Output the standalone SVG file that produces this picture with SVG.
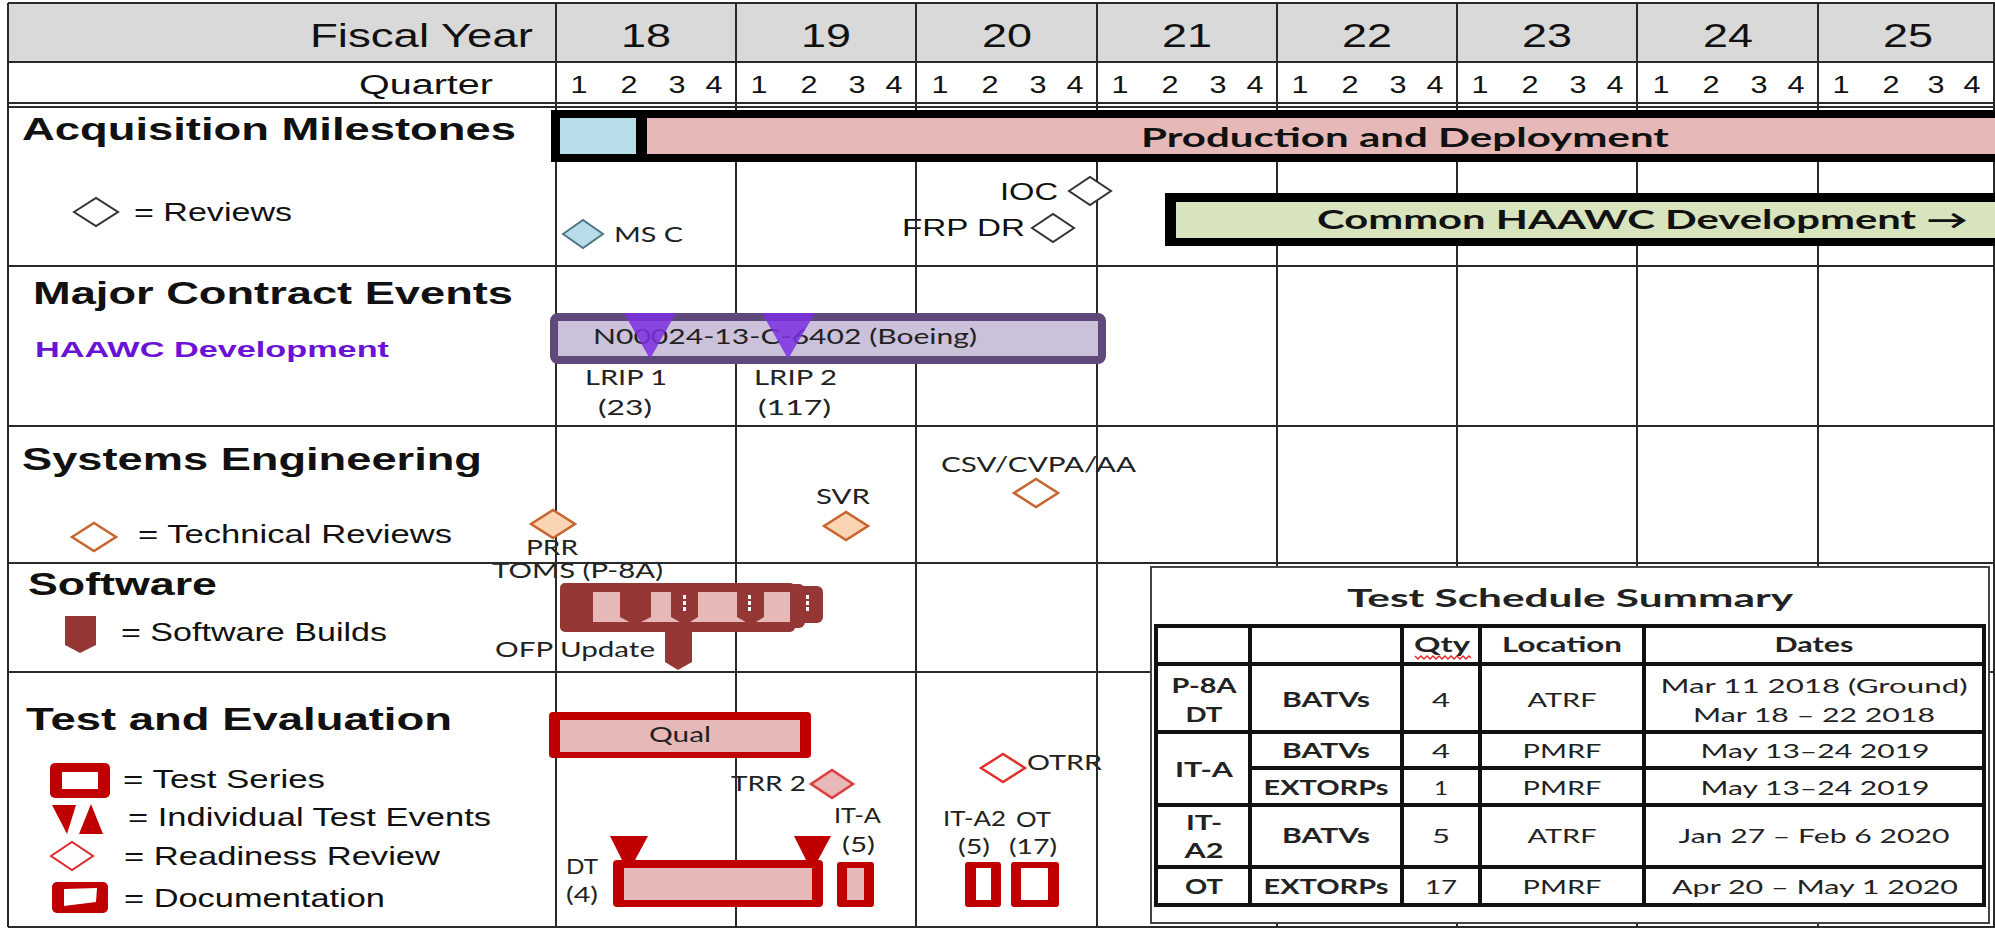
<svg xmlns="http://www.w3.org/2000/svg" width="1995" height="929" viewBox="0 0 1995 929">
<style>
.ar{font-family:"Liberation Sans",Arial,sans-serif;fill:#111}
.ca{font-family:Lato,"Noto Sans",sans-serif;fill:#222}
.b{font-weight:bold}
.hdr{font-size:34px}
.q{font-size:27px}
.qn{font-size:23px}
.sec{font-size:31px;font-weight:bold}
.leg{font-size:25px}
.lbl{font-size:21px}
.bar{font-family:Lato,"Noto Sans",sans-serif;font-weight:bold;font-size:26px;fill:#111}
.tb{font-size:20px}
.grid line{stroke:#2a2a2a;stroke-width:2}
.dk{fill:#953735}
.rd{fill:#c00000}
.pk{fill:#e6b8b7}
.wh{fill:#fff}
.rev{fill:#fff;stroke:#333;stroke-width:2}
.tr{fill:#fff;stroke:#c8642d;stroke-width:2.5}
.trf{fill:#fbd4b4;stroke:#c8642d;stroke-width:2.5}
.tl line{stroke:#111;stroke-width:4}
</style>

<rect x="0" y="0" width="1995" height="929" fill="#fff"/>
<rect x="8" y="3" width="1990" height="59" fill="#d9d9d9"/>

<!-- chart-area labels crossed by grid lines -->
<g id="labels-under-grid">
<text class="ca lbl" x="526" y="555" textLength="52" lengthAdjust="spacingAndGlyphs">PRR</text>
<text class="ca lbl" x="492" y="578" textLength="171" lengthAdjust="spacingAndGlyphs">TOMS (P-8A)</text>
<text class="ca lbl" x="495" y="657" textLength="160" lengthAdjust="spacingAndGlyphs">OFP Update</text>
<text class="ar" font-size="24" x="902" y="236" textLength="123" lengthAdjust="spacingAndGlyphs">FRP DR</text>
<text class="ca lbl" x="731" y="791" textLength="75" lengthAdjust="spacingAndGlyphs">TRR 2</text>
<text class="ca lbl" x="1027" y="770" textLength="75" lengthAdjust="spacingAndGlyphs">OTRR</text>
</g>

<g id="grid" class="grid">
<line x1="8" y1="3" x2="1995" y2="3"/>
<line x1="8" y1="62" x2="1995" y2="62"/>
<line x1="8" y1="103" x2="1995" y2="103"/>
<line x1="8" y1="107" x2="1995" y2="107"/>
<line x1="8" y1="266" x2="1995" y2="266"/>
<line x1="8" y1="426" x2="1995" y2="426"/>
<line x1="8" y1="563" x2="1995" y2="563"/>
<line x1="8" y1="672" x2="1995" y2="672"/>
<line x1="8" y1="927" x2="1995" y2="927"/>
<line x1="8" y1="3" x2="8" y2="927"/>
<line x1="556" y1="3" x2="556" y2="927"/>
<line x1="736" y1="3" x2="736" y2="927"/>
<line x1="916" y1="3" x2="916" y2="927"/>
<line x1="1097" y1="3" x2="1097" y2="927"/>
<line x1="1277" y1="3" x2="1277" y2="927"/>
<line x1="1457" y1="3" x2="1457" y2="927"/>
<line x1="1637" y1="3" x2="1637" y2="927"/>
<line x1="1818" y1="3" x2="1818" y2="927"/>
<line x1="1994" y1="3" x2="1994" y2="927"/>
</g>

<g id="header">
<text class="ar hdr" x="310" y="47" textLength="223" lengthAdjust="spacingAndGlyphs">Fiscal Year</text>
<g class="ar hdr" text-anchor="middle">
<text x="646" y="47" textLength="50" lengthAdjust="spacingAndGlyphs">18</text>
<text x="826" y="47" textLength="50" lengthAdjust="spacingAndGlyphs">19</text>
<text x="1007" y="47" textLength="50" lengthAdjust="spacingAndGlyphs">20</text>
<text x="1187" y="47" textLength="50" lengthAdjust="spacingAndGlyphs">21</text>
<text x="1367" y="47" textLength="50" lengthAdjust="spacingAndGlyphs">22</text>
<text x="1547" y="47" textLength="50" lengthAdjust="spacingAndGlyphs">23</text>
<text x="1728" y="47" textLength="50" lengthAdjust="spacingAndGlyphs">24</text>
<text x="1908" y="47" textLength="50" lengthAdjust="spacingAndGlyphs">25</text>
</g>
<text class="ar q" x="359" y="94" textLength="134" lengthAdjust="spacingAndGlyphs">Quarter</text>
<g class="ar qn" text-anchor="middle">
<text x="579" y="93" textLength="17" lengthAdjust="spacingAndGlyphs">1</text><text x="629" y="93" textLength="17" lengthAdjust="spacingAndGlyphs">2</text><text x="677" y="93" textLength="17" lengthAdjust="spacingAndGlyphs">3</text><text x="714" y="93" textLength="17" lengthAdjust="spacingAndGlyphs">4</text>
<text x="759" y="93" textLength="17" lengthAdjust="spacingAndGlyphs">1</text><text x="809" y="93" textLength="17" lengthAdjust="spacingAndGlyphs">2</text><text x="857" y="93" textLength="17" lengthAdjust="spacingAndGlyphs">3</text><text x="894" y="93" textLength="17" lengthAdjust="spacingAndGlyphs">4</text>
<text x="940" y="93" textLength="17" lengthAdjust="spacingAndGlyphs">1</text><text x="990" y="93" textLength="17" lengthAdjust="spacingAndGlyphs">2</text><text x="1038" y="93" textLength="17" lengthAdjust="spacingAndGlyphs">3</text><text x="1075" y="93" textLength="17" lengthAdjust="spacingAndGlyphs">4</text>
<text x="1120" y="93" textLength="17" lengthAdjust="spacingAndGlyphs">1</text><text x="1170" y="93" textLength="17" lengthAdjust="spacingAndGlyphs">2</text><text x="1218" y="93" textLength="17" lengthAdjust="spacingAndGlyphs">3</text><text x="1255" y="93" textLength="17" lengthAdjust="spacingAndGlyphs">4</text>
<text x="1300" y="93" textLength="17" lengthAdjust="spacingAndGlyphs">1</text><text x="1350" y="93" textLength="17" lengthAdjust="spacingAndGlyphs">2</text><text x="1398" y="93" textLength="17" lengthAdjust="spacingAndGlyphs">3</text><text x="1435" y="93" textLength="17" lengthAdjust="spacingAndGlyphs">4</text>
<text x="1480" y="93" textLength="17" lengthAdjust="spacingAndGlyphs">1</text><text x="1530" y="93" textLength="17" lengthAdjust="spacingAndGlyphs">2</text><text x="1578" y="93" textLength="17" lengthAdjust="spacingAndGlyphs">3</text><text x="1615" y="93" textLength="17" lengthAdjust="spacingAndGlyphs">4</text>
<text x="1661" y="93" textLength="17" lengthAdjust="spacingAndGlyphs">1</text><text x="1711" y="93" textLength="17" lengthAdjust="spacingAndGlyphs">2</text><text x="1759" y="93" textLength="17" lengthAdjust="spacingAndGlyphs">3</text><text x="1796" y="93" textLength="17" lengthAdjust="spacingAndGlyphs">4</text>
<text x="1841" y="93" textLength="17" lengthAdjust="spacingAndGlyphs">1</text><text x="1891" y="93" textLength="17" lengthAdjust="spacingAndGlyphs">2</text><text x="1936" y="93" textLength="17" lengthAdjust="spacingAndGlyphs">3</text><text x="1972" y="93" textLength="17" lengthAdjust="spacingAndGlyphs">4</text>
</g>
</g>

<!-- Acquisition Milestones -->
<g id="acq-title"><text class="ar sec" x="22" y="140" textLength="494" lengthAdjust="spacingAndGlyphs">Acquisition Milestones</text></g>
<g id="acq-legend">
<polygon class="rev" points="74,212 96,198 118,212 96,226"/>
<text class="ar leg" x="134" y="221" textLength="158" lengthAdjust="spacingAndGlyphs">= Reviews</text>
</g>
<g id="production-bar">
<rect x="551" y="110" width="1450" height="52" fill="#000"/>
<rect x="560" y="118" width="76" height="36" fill="#b7dee8"/>
<rect x="647" y="118" width="1350" height="36" class="pk"/>
<text class="bar" x="1141" y="147" textLength="528" lengthAdjust="spacingAndGlyphs">Production and Deployment</text>
</g>
<g id="ms-c">
<polygon points="563,234 583,220 603,234 583,248" fill="#b7dee8" stroke="#4f7682" stroke-width="2"/>
<text class="ca lbl" x="614" y="242" textLength="69" lengthAdjust="spacingAndGlyphs">MS C</text>
</g>
<g id="ioc">
<polygon class="rev" points="1069,191 1090,177 1111,191 1090,205"/>
<text class="ar" font-size="24" x="1000" y="200" textLength="58" lengthAdjust="spacingAndGlyphs">IOC</text>
</g>
<g id="frp-dr">
<polygon class="rev" points="1032,228 1053,214 1074,228 1053,242"/>
</g>
<g id="common-haawc">
<rect x="1165" y="193" width="840" height="53" fill="#000"/>
<rect x="1176" y="202" width="830" height="36" fill="#d7e4bd"/>
<text class="bar" x="1317" y="229" textLength="651" lengthAdjust="spacingAndGlyphs">Common HAAWC Development →</text>
</g>

<!-- Major Contract Events -->
<g id="mce-title">
<text class="ar sec" x="33" y="304" textLength="480" lengthAdjust="spacingAndGlyphs">Major Contract Events</text>
<text class="ar b" font-size="22" style="fill:#6a12d6" x="35" y="357" textLength="354" lengthAdjust="spacingAndGlyphs">HAAWC Development</text>
</g>
<g id="contract-bar">
<rect x="554" y="317" width="548" height="43" rx="4" fill="#ccc1da" stroke="#5f497a" stroke-width="8"/>
<text class="ca lbl" x="593" y="344" textLength="384" lengthAdjust="spacingAndGlyphs">N00024-13-C-6402 (Boeing)</text>
<polygon points="624,313 676,313 650,359" fill="#7b2fe0" fill-opacity="0.85"/>
<polygon points="762,313 815,313 788,359" fill="#7b2fe0" fill-opacity="0.85"/>
</g>
<g id="lrip1">
<text class="ca lbl" x="585" y="385" textLength="82" lengthAdjust="spacingAndGlyphs">LRIP 1</text>
<text class="ca lbl" x="598" y="415" textLength="54" lengthAdjust="spacingAndGlyphs">(23)</text>
</g>
<g id="lrip2">
<text class="ca lbl" x="754" y="385" textLength="83" lengthAdjust="spacingAndGlyphs">LRIP 2</text>
<text class="ca lbl" x="758" y="415" textLength="73" lengthAdjust="spacingAndGlyphs">(117)</text>
</g>

<!-- Systems Engineering -->
<g id="se-title"><text class="ar sec" x="22" y="470" textLength="460" lengthAdjust="spacingAndGlyphs">Systems Engineering</text></g>
<g id="se-legend">
<polygon class="tr" points="72,537 94,523 116,537 94,551"/>
<text class="ar leg" x="138" y="543" textLength="314" lengthAdjust="spacingAndGlyphs">= Technical Reviews</text>
</g>
<g id="prr"><polygon class="trf" points="531,524 553,510 575,524 553,538"/></g>
<g id="svr">
<polygon class="trf" points="824,526 846,512 868,526 846,540"/>
<text class="ca lbl" x="816" y="504" textLength="54" lengthAdjust="spacingAndGlyphs">SVR</text>
</g>
<g id="csv">
<polygon class="tr" points="1014,493 1036,479 1058,493 1036,507"/>
<text class="ca lbl" x="941" y="472" textLength="195" lengthAdjust="spacingAndGlyphs">CSV/CVPA/AA</text>
</g>

<!-- Software -->
<g id="sw-title"><text class="ar sec" x="28" y="595" textLength="189" lengthAdjust="spacingAndGlyphs">Software</text></g>
<g id="sw-legend">
<path class="dk" d="M65,616 H96 V645 L80,653 L65,645 Z"/>
<text class="ar leg" x="121" y="641" textLength="266" lengthAdjust="spacingAndGlyphs">= Software Builds</text>
</g>
<g id="toms-builds">
<rect class="dk" x="590" y="586" width="233" height="37" rx="6"/>
<rect class="dk" x="575" y="584" width="230" height="44" rx="6"/>
<rect class="dk" x="560" y="583" width="235" height="49" rx="5"/>
<rect class="pk" x="593" y="592" width="197" height="30"/>
<path class="dk" d="M620,592 H651 V617 L635,625 L620,617 Z"/>
<path class="dk" d="M671,592 H698 V617 L685,625 L671,617 Z"/>
<path class="dk" d="M737,592 H764 V617 L751,625 L737,617 Z"/>
<g class="wh">
<rect x="683" y="595" width="3" height="4"/><rect x="683" y="601" width="3" height="4"/><rect x="683" y="607" width="3" height="4"/>
<rect x="748" y="595" width="3" height="4"/><rect x="748" y="601" width="3" height="4"/><rect x="748" y="607" width="3" height="4"/>
<rect x="806" y="595" width="3" height="4"/><rect x="806" y="601" width="3" height="4"/><rect x="806" y="607" width="3" height="4"/>
</g>
</g>
<g id="ofp-update"><path class="dk" d="M665,630 H692 V662 L678,670 L665,662 Z"/></g>

<!-- Test and Evaluation -->
<g id="te-title"><text class="ar sec" x="26" y="730" textLength="426" lengthAdjust="spacingAndGlyphs">Test and Evaluation</text></g>
<g id="te-legend">
<rect class="rd" x="50" y="763" width="60" height="35" rx="5"/>
<rect class="wh" x="62" y="772" width="36" height="17"/>
<text class="ar leg" x="123" y="788" textLength="202" lengthAdjust="spacingAndGlyphs">= Test Series</text>
<polygon class="rd" points="52,805 76,805 67,834"/>
<polygon class="rd" points="79,834 103,834 91,804"/>
<text class="ar leg" x="128" y="826" textLength="363" lengthAdjust="spacingAndGlyphs">= Individual Test Events</text>
<polygon points="51,856 72,842 93,856 72,870" fill="#fff" stroke="#e02828" stroke-width="2"/>
<text class="ar leg" x="124" y="865" textLength="316" lengthAdjust="spacingAndGlyphs">= Readiness Review</text>
<rect class="rd" x="52" y="882" width="56" height="31" rx="5"/>
<polygon class="wh" points="64,889 97,888 96,902 64,906"/>
<text class="ar leg" x="124" y="907" textLength="261" lengthAdjust="spacingAndGlyphs">= Documentation</text>
</g>
<g id="qual">
<rect class="rd" x="549" y="712" width="262" height="46" rx="4"/>
<rect class="pk" x="560" y="720" width="240" height="32"/>
<text class="ca lbl" x="649" y="742" textLength="62" lengthAdjust="spacingAndGlyphs">Qual</text>
</g>
<g id="trr2"><polygon points="811,784 832,770 853,784 832,798" fill="#e6b8b7" stroke="#e03c3c" stroke-width="2.5"/></g>
<g id="otrr"><polygon points="981,768 1003,754 1025,768 1003,782" fill="#fff" stroke="#e03030" stroke-width="2.5"/></g>
<g id="dt">
<text class="ca lbl" x="566" y="874" textLength="32" lengthAdjust="spacingAndGlyphs">DT</text>
<text class="ca lbl" x="566" y="902" textLength="32" lengthAdjust="spacingAndGlyphs">(4)</text>
<rect class="rd" x="613" y="860" width="210" height="47" rx="4"/>
<rect class="pk" x="624" y="868" width="188" height="32"/>
<polygon class="rd" points="610,836 648,836 634,862 623,862"/>
<polygon class="rd" points="794,836 831,836 817,862 807,862"/>
</g>
<g id="it-a">
<text class="ca lbl" x="834" y="823" textLength="47" lengthAdjust="spacingAndGlyphs">IT-A</text>
<text class="ca lbl" x="842" y="852" textLength="33" lengthAdjust="spacingAndGlyphs">(5)</text>
<rect class="rd" x="837" y="862" width="37" height="45" rx="3"/>
<rect class="pk" x="847" y="868" width="17" height="32"/>
</g>
<g id="it-a2">
<text class="ca lbl" x="943" y="826" textLength="63" lengthAdjust="spacingAndGlyphs">IT-A2</text>
<text class="ca lbl" x="958" y="854" textLength="32" lengthAdjust="spacingAndGlyphs">(5)</text>
<rect class="rd" x="965" y="862" width="36" height="45" rx="3"/>
<rect class="wh" x="976" y="868" width="15" height="32"/>
</g>
<g id="ot">
<text class="ca lbl" x="1016" y="827" textLength="35" lengthAdjust="spacingAndGlyphs">OT</text>
<text class="ca lbl" x="1009" y="854" textLength="48" lengthAdjust="spacingAndGlyphs">(17)</text>
<rect class="rd" x="1011" y="862" width="48" height="45" rx="3"/>
<rect class="wh" x="1021" y="868" width="27" height="32"/>
</g>

<!-- Test Schedule Summary -->
<g id="test-schedule-summary">
<rect x="1151" y="567" width="838" height="356" fill="#fff" stroke="#444" stroke-width="2"/>
<text class="ca b" font-size="25" x="1347" y="607" textLength="446" lengthAdjust="spacingAndGlyphs">Test Schedule Summary</text>
<g class="tl">
<rect x="1156" y="626" width="828" height="279" fill="none" stroke="#111" stroke-width="4"/>
<line x1="1156" y1="664" x2="1984" y2="664"/>
<line x1="1156" y1="732" x2="1984" y2="732"/>
<line x1="1250" y1="768" x2="1984" y2="768"/>
<line x1="1156" y1="805" x2="1984" y2="805"/>
<line x1="1156" y1="867" x2="1984" y2="867"/>
<line x1="1250" y1="626" x2="1250" y2="905"/>
<line x1="1402" y1="626" x2="1402" y2="905"/>
<line x1="1480" y1="626" x2="1480" y2="905"/>
<line x1="1644" y1="626" x2="1644" y2="905"/>
</g>
<polyline points="1415,656 1418,659 1421,656 1424,659 1427,656 1430,659 1433,656 1436,659 1439,656 1442,659 1445,656 1448,659 1451,656 1454,659 1457,656 1460,659 1463,656 1466,659 1469,656 1471,658" fill="none" stroke="#e02020" stroke-width="1.3"/>
<g class="ca tb" text-anchor="middle">
<text class="b" x="1442" y="652" textLength="56" lengthAdjust="spacingAndGlyphs">Qty</text>
<text class="b" x="1562" y="652" textLength="120" lengthAdjust="spacingAndGlyphs">Location</text>
<text class="b" x="1814" y="652" textLength="79" lengthAdjust="spacingAndGlyphs">Dates</text>

<text class="b" x="1204" y="693" textLength="65" lengthAdjust="spacingAndGlyphs">P-8A</text>
<text class="b" x="1204" y="722" textLength="37" lengthAdjust="spacingAndGlyphs">DT</text>
<text class="b" x="1326" y="707" textLength="88" lengthAdjust="spacingAndGlyphs">BATVs</text>
<text x="1441" y="707" textLength="18" lengthAdjust="spacingAndGlyphs">4</text>
<text x="1562" y="707" textLength="69" lengthAdjust="spacingAndGlyphs">ATRF</text>
<text x="1814" y="693" textLength="307" lengthAdjust="spacingAndGlyphs">Mar 11 2018 (Ground)</text>
<text x="1814" y="722" textLength="242" lengthAdjust="spacingAndGlyphs">Mar 18 – 22 2018</text>

<text class="b" x="1204" y="777" textLength="58" lengthAdjust="spacingAndGlyphs">IT-A</text>
<text class="b" x="1326" y="758" textLength="88" lengthAdjust="spacingAndGlyphs">BATVs</text>
<text x="1441" y="758" textLength="18" lengthAdjust="spacingAndGlyphs">4</text>
<text x="1562" y="758" textLength="79" lengthAdjust="spacingAndGlyphs">PMRF</text>
<text x="1815" y="758" textLength="229" lengthAdjust="spacingAndGlyphs">May 13–24 2019</text>

<text class="b" x="1326" y="795" textLength="125" lengthAdjust="spacingAndGlyphs">EXTORPs</text>
<text x="1441" y="795" textLength="14" lengthAdjust="spacingAndGlyphs">1</text>
<text x="1562" y="795" textLength="79" lengthAdjust="spacingAndGlyphs">PMRF</text>
<text x="1815" y="795" textLength="229" lengthAdjust="spacingAndGlyphs">May 13–24 2019</text>

<text class="b" x="1204" y="830" textLength="36" lengthAdjust="spacingAndGlyphs">IT-</text>
<text class="b" x="1204" y="858" textLength="39" lengthAdjust="spacingAndGlyphs">A2</text>
<text class="b" x="1326" y="843" textLength="88" lengthAdjust="spacingAndGlyphs">BATVs</text>
<text x="1441" y="843" textLength="18" lengthAdjust="spacingAndGlyphs">5</text>
<text x="1562" y="843" textLength="69" lengthAdjust="spacingAndGlyphs">ATRF</text>
<text x="1814" y="843" textLength="271" lengthAdjust="spacingAndGlyphs">Jan 27 – Feb 6 2020</text>

<text class="b" x="1204" y="894" textLength="38" lengthAdjust="spacingAndGlyphs">OT</text>
<text class="b" x="1326" y="894" textLength="125" lengthAdjust="spacingAndGlyphs">EXTORPs</text>
<text x="1441" y="894" textLength="32" lengthAdjust="spacingAndGlyphs">17</text>
<text x="1562" y="894" textLength="79" lengthAdjust="spacingAndGlyphs">PMRF</text>
<text x="1815" y="894" textLength="286" lengthAdjust="spacingAndGlyphs">Apr 20 – May 1 2020</text>
</g>
</g>
</svg>
